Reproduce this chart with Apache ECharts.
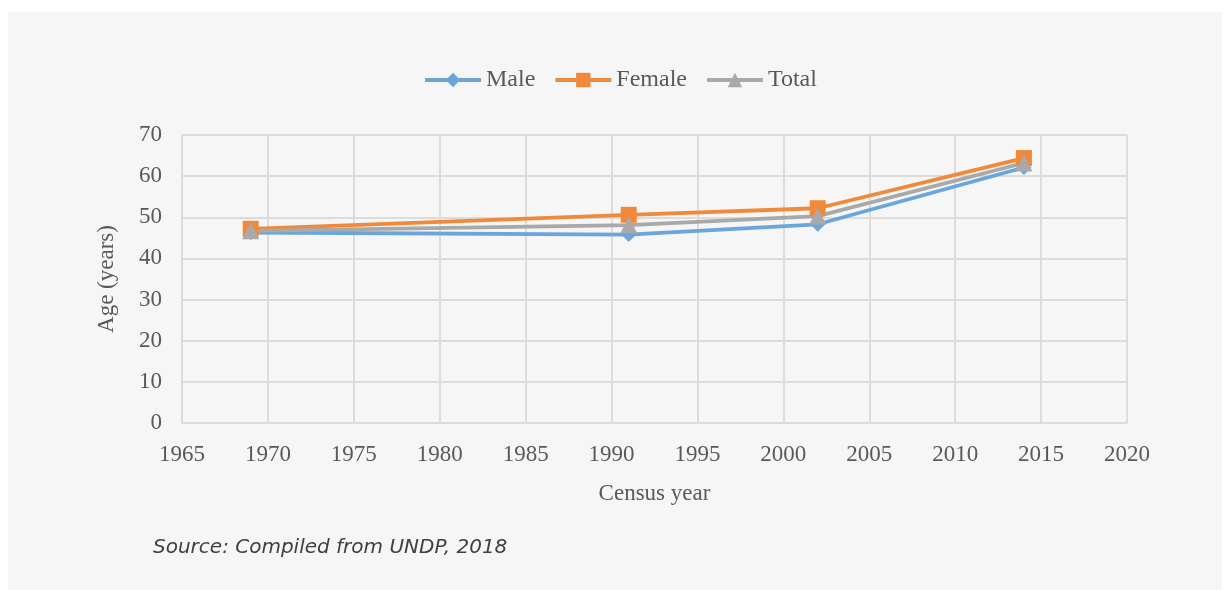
<!DOCTYPE html>
<html>
<head>
<meta charset="utf-8">
<style>
  html, body { margin: 0; padding: 0; background: #ffffff; }
  #chart { width: 1230px; height: 590px; }
</style>
<script src="https://cdn.jsdelivr.net/npm/echarts@6/dist/echarts.min.js"></script>
</head>
<body>
<div id="chart"></div>
<script>
// Census years and median age by sex
const censusYears = [1969, 1991, 2002, 2014];
const maleAge   = [46.3, 45.8, 48.3, 62.1];
const femaleAge = [47.2, 50.6, 52.2, 64.4];
const totalAge  = [46.7, 48.1, 50.3, 63.2];

const seriesNames = ['Male', 'Female', 'Total'];
const xTitle = 'Census year';
const yTitle = 'Age (years)';
const sourceNote = 'Source: Compiled from UNDP, 2018';

const serif = '"Liberation Serif", "DejaVu Serif", serif';
const textColor = '#595959';
const gridColor = '#dcdcdc';

function pairs(values) {
  return censusYears.map((y, i) => [y, values[i]]);
}

const chart = echarts.init(document.getElementById('chart'), null, { renderer: 'canvas' });

const lineSeries = (name, values, color, symbol, size) => ({
  name: name,
  type: 'line',
  data: pairs(values),
  symbol: symbol,
  symbolSize: size,
  showAllSymbol: true,
  lineStyle: { color: color, width: 3.8 },
  itemStyle: { color: color },
  emphasis: { disabled: true },
  z: 3
});

chart.setOption({
  animation: false,
  backgroundColor: '#ffffff',
  graphic: [{
    type: 'rect',
    shape: { x: 8, y: 12, width: 1214, height: 578 },
    style: { fill: '#f6f6f6' },
    z: -10,
    silent: true
  }, {
    type: 'text',
    left: 153,
    top: 538,
    style: {
      text: sourceNote,
      font: 'italic 20px "DejaVu Sans", "Open Sans", sans-serif',
      fill: '#404040'
    }
  }],
  legend: {
    data: seriesNames,
    top: 63,
    left: 418,
    itemWidth: 56,
    itemHeight: 18,
    itemGap: 18,
    lineStyle: { width: 4 },
    textStyle: { fontFamily: serif, fontSize: 24, color: textColor }
  },
  grid: { left: 182, right: 103, top: 135, bottom: 167, containLabel: false },
  xAxis: {
    type: 'value',
    min: 1965,
    max: 2020,
    interval: 5,
    name: xTitle,
    nameLocation: 'middle',
    nameGap: 59,
    nameTextStyle: { fontFamily: serif, fontSize: 23, color: textColor },
    axisLine: { show: true, lineStyle: { color: gridColor, width: 2 } },
    axisTick: { show: false },
    axisLabel: {
      fontFamily: serif, fontSize: 23, color: textColor, margin: 20,
      formatter: v => String(v)
    },
    splitLine: { show: true, lineStyle: { color: gridColor, width: 2 } }
  },
  yAxis: {
    type: 'value',
    min: 0,
    max: 70,
    interval: 10,
    name: yTitle,
    nameLocation: 'middle',
    nameGap: 64,
    nameRotate: 90,
    nameTextStyle: { fontFamily: serif, fontSize: 23, color: textColor },
    axisLine: { show: true, lineStyle: { color: gridColor, width: 2 } },
    axisTick: { show: false },
    axisLabel: { fontFamily: serif, fontSize: 23, color: textColor, margin: 20 },
    splitLine: { show: true, lineStyle: { color: gridColor, width: 2 } }
  },
  series: [
    lineSeries('Male', maleAge, '#6aa6dc', 'diamond', 15),
    lineSeries('Female', femaleAge, '#f08a3a', 'rect', 16),
    lineSeries('Total', totalAge, '#a9a9a9', 'triangle', 17)
  ]
});
</script>
</body>
</html>
